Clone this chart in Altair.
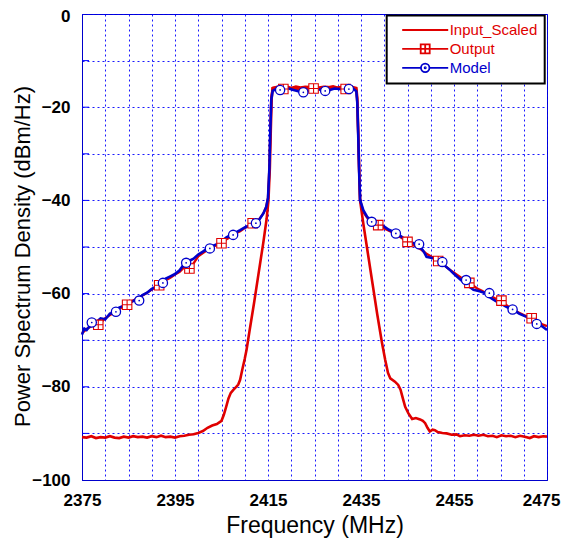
import altair as alt
import pandas as pd

RED = "#e00000"
BLUE = "#0000cc"
GRID_BLUE = "#0000ff"
FONT = "Liberation Sans"

series_names = ["Input_Scaled", "Output", "Model"]
series_colors = [RED, RED, BLUE]

x_tick_values = [2375, 2380, 2385, 2390, 2395, 2400, 2405, 2410, 2415, 2420, 2425,
                 2430, 2435, 2440, 2445, 2450, 2455, 2460, 2465, 2470, 2475]
x_label_values = [2375, 2395, 2415, 2435, 2455, 2475]
y_tick_values = [-100, -90, -80, -70, -60, -50, -40, -30, -20, -10, 0]
y_label_values = [-100, -80, -60, -40, -20, 0]
inner_y_ticks = [-90, -80, -70, -60, -50, -40, -30, -20, -10]

# Input_Scaled (red, no marker)
input_f = [2375, 2376, 2377, 2378, 2379, 2380, 2381, 2382, 2383, 2384,
           2385, 2386, 2387, 2388, 2389, 2390, 2391, 2392, 2393, 2394,
           2395, 2396, 2397, 2398, 2399, 2400, 2401, 2402, 2403, 2404,
           2405, 2405.5, 2406, 2406.5, 2407, 2407.5, 2408, 2408.6, 2409, 2409.5,
           2410, 2410.4, 2411, 2412, 2413, 2414, 2414.7, 2415.1, 2415.4, 2415.6,
           2415.8, 2416.0, 2417, 2418, 2419, 2420, 2421, 2422, 2423, 2424,
           2425, 2426, 2427, 2428, 2429, 2430, 2431, 2432, 2433, 2434.0,
           2434.2, 2434.4, 2434.6, 2434.8, 2435.5, 2436.5, 2437.5, 2438.5, 2439.5, 2440.2,
           2440.8, 2441.3, 2442.3, 2443.0, 2443.5, 2444.0, 2444.5, 2445.2, 2446.0, 2446.8,
           2447.7, 2448.3, 2448.8, 2449.3, 2449.8, 2450.4, 2450.9, 2451.5, 2452.5, 2453.4,
           2454.5, 2455.5, 2456.3, 2457.3, 2458.3, 2459.3, 2460.3, 2461.3, 2462.3, 2463.3,
           2464.2, 2465.2, 2466.2, 2467.2, 2468.2, 2469.2, 2470.2, 2471.3, 2472.2, 2473.2,
           2474.2, 2475]
input_v = [-90.8, -90.9, -90.6, -91.0, -90.8, -90.9, -90.6, -90.9, -91.0, -90.7,
           -90.9, -90.6, -90.8, -90.7, -90.9, -90.6, -90.8, -90.5, -90.8, -90.7,
           -90.9, -90.6, -90.5, -90.3, -90.2, -89.9, -89.5, -88.8, -88.3, -88.0,
           -87.3, -86.0, -84.3, -82.5, -81.3, -80.7, -80.2, -79.5, -78.5, -76.2,
           -74.0, -72.0, -68.2, -62.0, -55.5, -49.0, -44.0, -40.0, -33.0, -25.0,
           -18.0, -15.9, -15.6, -15.7, -15.5, -15.9, -15.6, -15.8, -15.6, -15.7,
           -15.6, -15.8, -15.6, -15.7, -15.5, -15.8, -15.6, -15.7, -15.6, -15.9,
           -18.0, -25.0, -33.0, -40.0, -45.0, -51.5, -58.0, -64.5, -70.5, -74.2,
           -77.0, -78.2, -78.9, -79.6, -80.6, -82.5, -84.3, -85.7, -86.9, -86.7,
           -87.0, -87.3, -87.8, -88.8, -89.6, -89.2, -89.3, -89.7, -89.9, -90.0,
           -90.3, -90.2, -90.6, -90.4, -90.5, -90.3, -90.5, -90.3, -90.6, -90.5,
           -90.8, -90.4, -90.6, -90.5, -90.8, -90.5, -90.7, -91.0, -90.6, -90.8,
           -90.6, -90.7]

# Output (red line with square markers)
output_f = [2375, 2376, 2377, 2378, 2379, 2380, 2381, 2382, 2383, 2384,
            2385, 2386, 2387, 2388, 2389, 2390, 2391, 2392, 2393, 2394,
            2395, 2396, 2397, 2398, 2399, 2400, 2401, 2402, 2403, 2404,
            2405, 2406, 2407, 2408, 2409, 2410, 2411, 2412, 2413, 2414,
            2414.6, 2415.0, 2415.3, 2415.5, 2415.7, 2416.0, 2417.0, 2418.3, 2419.5, 2420.5,
            2421.5, 2422.5, 2423.5, 2424.8, 2426.0, 2427.0, 2428.0, 2429.0, 2430.0, 2431.0,
            2431.7, 2433.0, 2434.0, 2434.2, 2434.4, 2434.6, 2434.8, 2435.5, 2436.5, 2437.5,
            2438.7, 2440, 2441, 2442, 2443, 2444, 2445, 2446, 2447, 2448,
            2449, 2450, 2451, 2452, 2453, 2454, 2455, 2456, 2457, 2458,
            2459, 2460, 2461, 2462, 2463, 2464, 2465, 2466, 2467, 2468,
            2469, 2470, 2471, 2472, 2473, 2474, 2475]
output_v = [-68.5, -67.6, -67.0, -66.7, -66.2, -65.3, -64.6, -64.1, -63.3, -62.7,
            -62.2, -61.5, -61.0, -60.4, -59.8, -59.1, -58.5, -57.9, -57.1, -56.6,
            -55.9, -55.3, -54.3, -54.6, -53.5, -52.0, -51.3, -50.6, -50.0, -49.6,
            -49.1, -48.4, -47.8, -47.1, -46.6, -45.9, -45.4, -44.9, -44.2, -42.8,
            -41.4, -39.5, -33.0, -25.0, -18.0, -15.9, -15.7, -15.9, -15.8, -16.0,
            -16.1, -16.2, -16.0, -16.0, -15.9, -16.0, -15.9, -15.8, -15.9, -16.0,
            -16.1, -15.8, -16.2, -19.0, -26.0, -34.0, -39.9, -42.5, -44.0, -44.8,
            -45.3, -46.0, -46.5, -47.0, -47.6, -48.2, -48.9, -49.5, -50.0, -50.6,
            -51.4, -52.0, -52.6, -53.2, -54.0, -54.8, -55.5, -56.2, -56.9, -57.5,
            -58.2, -58.9, -59.4, -60.0, -60.6, -61.1, -61.5, -62.3, -63.0, -63.6,
            -64.1, -64.6, -65.0, -65.5, -66.1, -66.6, -67.0]

# Model (blue line with circle markers)
model_f = [2375, 2375.5, 2376, 2377, 2378, 2379, 2380, 2381, 2382, 2383,
           2384, 2385, 2386, 2387, 2388, 2389, 2390, 2391, 2392, 2393,
           2394, 2395, 2396, 2397, 2398, 2399, 2400, 2401, 2402, 2403,
           2404, 2405, 2406, 2407, 2408, 2409, 2410, 2411, 2412, 2413,
           2414, 2414.6, 2415.0, 2415.3, 2415.5, 2415.7, 2416.0, 2417.0, 2417.6, 2418.5,
           2419.5, 2420.5, 2421.5, 2422.6, 2423.5, 2424.5, 2425.5, 2426.5, 2427.3, 2428.3,
           2429.3, 2430.3, 2431.3, 2432.4, 2433.3, 2434.0, 2434.2, 2434.4, 2434.6, 2434.8,
           2435.5, 2436.3, 2437.3, 2438.5, 2439.8, 2441.0, 2442.7, 2444.0, 2445.5, 2447.0,
           2447.7, 2448.5, 2449.1, 2450.0, 2451.0, 2452.0, 2453.0, 2454.0, 2454.8, 2455.5,
           2456.3, 2457.0, 2458.0, 2459.2, 2460.5, 2462.0, 2463.0, 2464.0, 2465.0, 2466.0,
           2467.0, 2468.0, 2469.0, 2470.6, 2472.0, 2473.5, 2475.0]
model_v = [-68.8, -67.5, -67.8, -66.5, -66.2, -65.3, -65.5, -64.3, -64.0, -63.0,
           -62.6, -62.0, -61.6, -61.2, -60.3, -59.8, -59.0, -58.5, -57.7, -56.8,
           -56.3, -55.8, -55.0, -53.6, -53.0, -52.5, -51.6, -51.0, -50.3, -49.8,
           -49.4, -48.8, -48.0, -47.4, -46.9, -46.4, -45.8, -45.4, -44.9, -44.3,
           -42.8, -41.5, -39.5, -33.0, -25.0, -18.5, -16.5, -16.0, -16.3, -15.9,
           -16.0, -16.3, -16.6, -16.8, -16.5, -16.2, -16.1, -16.3, -16.5, -16.3,
           -16.0, -16.1, -16.2, -16.1, -16.0, -16.6, -19.0, -26.0, -34.0, -39.9,
           -42.1, -43.5, -44.3, -45.0, -45.5, -46.3, -47.1, -48.0, -48.9, -49.4,
           -49.9, -51.0, -52.1, -52.3, -52.5, -53.0, -54.0, -54.8, -55.6, -56.2,
           -56.9, -57.5, -58.3, -59.2, -59.5, -60.0, -61.0, -61.6, -62.1, -62.7,
           -63.2, -63.6, -64.3, -65.0, -65.9, -66.7, -67.8]

# marker positions
output_marker_f = [2378.5, 2384.7, 2391.6, 2398.1, 2405.0, 2411.7, 2418.3, 2424.8,
                   2431.7, 2438.7, 2445.0, 2451.6, 2458.3, 2465.2, 2471.7]
output_marker_v = [-66.7, -62.4, -58.2, -54.6, -49.2, -44.9, -16.1, -16.0,
                   -16.1, -45.3, -48.9, -53.0, -57.7, -61.5, -65.3]
model_marker_f = [2377.1, 2382.3, 2387.3, 2392.4, 2397.4, 2402.5, 2407.5, 2412.4,
                  2417.6, 2422.6, 2427.3, 2432.4, 2437.3, 2442.5, 2447.5, 2452.5,
                  2457.6, 2462.6, 2467.6, 2472.8]
model_marker_v = [-66.2, -63.9, -61.5, -57.7, -53.4, -50.3, -47.4, -44.9,
                  -16.3, -16.8, -16.5, -16.1, -44.6, -47.1, -49.4, -53.2,
                  -57.1, -59.9, -63.4, -66.5]

SQUARE_CROSS = "M-1,-1H1V1H-1ZM0,-1V1M-1,0H1"
legend_paths = [
    "M-4.6,0H4.6",
    "M-4.6,0H-0.9M0.9,0H4.6M-0.9,-0.9H0.9V0.9H-0.9ZM0,-0.9V0.9M-0.9,0H0.9",
    "M-4.6,0H-0.85M0.85,0H4.6M-0.85,0A0.85,0.85 0 1,0 0.85,0A0.85,0.85 0 1,0 -0.85,0Z"
    "M-0.12,0A0.12,0.12 0 1,0 0.12,0A0.12,0.12 0 1,0 -0.12,0Z",
]

W, H = 465, 466

df_in = pd.DataFrame({"f": input_f, "v": input_v})
df_out = pd.DataFrame({"f": output_f, "v": output_v})
df_mod = pd.DataFrame({"f": model_f, "v": model_v})
df_out_mk = pd.DataFrame({"f": output_marker_f, "v": output_marker_v})
df_mod_mk = pd.DataFrame({"f": model_marker_f, "v": model_marker_v})
df_yt = pd.DataFrame({"v": inner_y_ticks})
df_leg = pd.DataFrame({"series": series_names, "f": [2375] * 3, "v": [-100] * 3})

xs = alt.Scale(domain=[2375, 2475], nice=False, zero=False)
ys = alt.Scale(domain=[-100, 0], nice=False, zero=False)


def lab_expr(vals):
    return "indexof([" + ",".join(str(v) for v in vals) + "], datum.value) >= 0 ? datum.label : ''"


last_x = x_label_values[-1]
top_y = y_label_values[-1]
x_axis = alt.Axis(values=x_tick_values, labelExpr=lab_expr(x_label_values), format="d",
                  title="Frequency (MHz)", grid=True, ticks=False, labelFlush=False,
                  labelOverlap=False, labelPadding=12, titleFontSize=23,
                  titleBaseline="alphabetic", titleY=52,
                  labelAlign={"condition": {"test": "datum.value == %d" % last_x, "value": "right"},
                              "value": "center"},
                  labelOffset={"condition": {"test": "datum.value == %d" % last_x, "value": 13},
                               "value": 0})
y_axis = alt.Axis(values=y_tick_values, labelExpr=lab_expr(y_label_values), format="d",
                  title="Power Spectrum Density (dBm/Hz)", grid=True, ticks=False,
                  labelFlush=False, labelOverlap=False, labelPadding=12,
                  titleFontSize=22, titleBaseline="middle", titleX=-60, titleY=242,
                  labelOffset={"condition": {"test": "datum.value == %d" % top_y, "value": 2},
                               "value": 0})

X = alt.X("f:Q", scale=xs, axis=x_axis)
Y = alt.Y("v:Q", scale=ys, axis=y_axis)

line_in = alt.Chart(df_in).mark_line(color=RED, strokeWidth=2.6).encode(x=X, y=Y)
line_out = alt.Chart(df_out).mark_line(color=RED, strokeWidth=2.4).encode(x=X, y=Y)
line_mod = alt.Chart(df_mod).mark_line(color=BLUE, strokeWidth=2.6).encode(x=X, y=Y)

mk_out = alt.Chart(df_out_mk).mark_point(
    shape=SQUARE_CROSS, size=90, filled=False, fill="white", fillOpacity=1,
    stroke=RED, strokeWidth=1.1, opacity=1
).encode(x=X, y=Y)
mk_mod = alt.Chart(df_mod_mk).mark_point(
    shape="circle", size=85, filled=False, fill="white", fillOpacity=1,
    stroke=BLUE, strokeWidth=1.3, opacity=1
).encode(x=X, y=Y)
mk_mod_dot = alt.Chart(df_mod_mk).mark_point(
    shape="circle", size=3, filled=True, color=BLUE, opacity=1
).encode(x=X, y=Y)

yticks = alt.Chart(df_yt).mark_rule(color=GRID_BLUE, strokeWidth=1).encode(
    y=Y, x=alt.value(0), x2=alt.value(7)
)

leg = alt.Legend(title=None, orient="none", legendX=304.7, legendY=1.5,
                 labelColor=alt.ExprRef("datum.label == 'Model' ? '%s' : '%s'" % (BLUE, RED)))
legend_layer = alt.Chart(df_leg).mark_point(filled=False, opacity=0).encode(
    x=X, y=Y,
    color=alt.Color("series:N", scale=alt.Scale(domain=series_names, range=series_colors), legend=leg),
    shape=alt.Shape("series:N", scale=alt.Scale(domain=series_names, range=legend_paths), legend=leg),
)

chart = alt.layer(
    line_in, line_out, line_mod, mk_out, mk_mod, mk_mod_dot, yticks, legend_layer
).properties(
    width=W, height=H,
    autosize=alt.AutoSizeParams(type="none"),
    padding={"left": 74, "top": 6, "right": 14, "bottom": 58},
).configure_view(
    stroke=BLUE, strokeWidth=1
).configure_axis(
    domainColor=BLUE, domainWidth=1,
    gridColor=GRID_BLUE, gridDash=[2, 3], gridWidth=1, gridOpacity=0.9,
    labelFont=FONT, labelFontSize=17, labelFontWeight="bold", labelColor="black",
    titleFont=FONT, titleFontWeight="normal", titleColor="black",
).configure_legend(
    padding=7, strokeColor="black", strokeWidth=2, fillColor="white",
    symbolSize=100, symbolStrokeWidth=1.8, symbolOffset=24, labelOffset=17,
    labelFont=FONT, labelFontSize=15, rowPadding=1.9, symbolOpacity=1, labelLimit=0,
)

chart.save("out.html", embed_options={"renderer": "svg", "actions": False})
